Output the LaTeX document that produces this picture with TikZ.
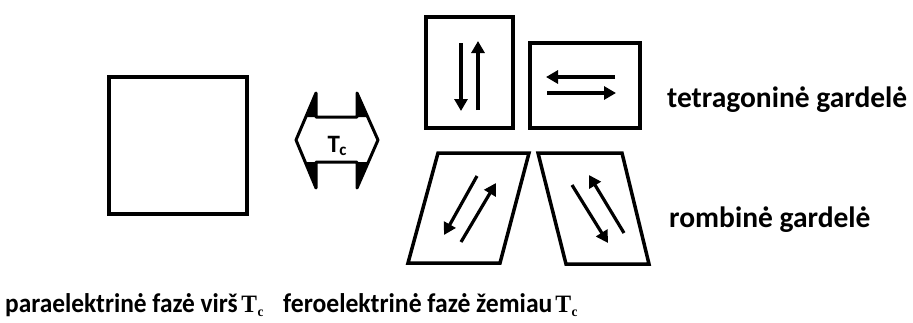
\documentclass[tikz,border=0pt]{standalone}
\usepackage{fontspec}
\setmainfont{Carlito}
\newfontfamily\serifT{Liberation Serif}
\usetikzlibrary{arrows.meta}
\tikzset{
  cell/.style={line width=4pt, line join=miter},
  rhomb/.style={line width=3.5pt, line join=miter},
  pol/.style={line width=3.2pt, -{Triangle[length=12pt,width=13pt]}},
  lbl/.style={anchor=base west, inner sep=0pt, font=\bfseries\fontsize{29.5}{32}\selectfont},
  bot/.style={anchor=base west, inner sep=0pt, font=\bfseries\fontsize{27}{30}\selectfont},
}
\newcommand{\TcSerif}{{\serifT\bfseries\fontsize{25}{27}\selectfont T}\kern0.5pt\raisebox{-4pt}{\serifT\bfseries\fontsize{14}{15}\selectfont c}}
\begin{document}
\begin{tikzpicture}[x=1pt,y=-1pt]
\useasboundingbox (0,0) rectangle (913,322);
\fill[white] (0,0) rectangle (913,322);
% paraelectric cubic cell
\draw[cell] (109,77) rectangle (247,214);
% double arrow with Tc
\coordinate (L) at (296,140);
\coordinate (R) at (378,140);
\draw[line width=3pt, line join=round] (L) -- (316,93) -- (316,117) -- (357,117) -- (357,93) -- (R) -- (357,188) -- (357,162) -- (316,162) -- (316,188) -- cycle;
\fill (316,93) -- (316,117) -- (305.8,117) -- cycle;
\fill (316,188) -- (316,162) -- (305.3,162) -- cycle;
\fill (357,93) -- (357,117) -- (367.3,117) -- cycle;
\fill (357,188) -- (357,162) -- (367.7,162) -- cycle;
\node[anchor=base, inner sep=0pt, font=\bfseries\fontsize{25}{27}\selectfont] (tc) at (337,152) {T\kern-0.5pt\raisebox{-3pt}{\fontsize{17}{18}\selectfont c}};
% tetragonal vertical
\draw[cell] (426,17) rectangle (513,128);
\coordinate (a1) at (461,43); \coordinate (a2) at (461,111);
\coordinate (b1) at (478,110); \coordinate (b2) at (478,41);
\draw[pol] (a1) -- (a2);
\draw[pol] (b1) -- (b2);
% tetragonal horizontal
\draw[cell] (530,43) rectangle (640,128);
\coordinate (c1) at (615,77); \coordinate (c2) at (546,77);
\coordinate (d1) at (547,93); \coordinate (d2) at (616,93);
\draw[pol] (c1) -- (c2);
\draw[pol] (d1) -- (d2);
% rhombohedral cells
\draw[rhomb] (438,153) -- (529,153) -- (500,263) -- (408,263) -- cycle;
\coordinate (e1) at (477,176); \coordinate (e2) at (444,235);
\coordinate (f1) at (461,242); \coordinate (f2) at (496,183);
\draw[pol] (e1) -- (e2);
\draw[pol] (f1) -- (f2);
\draw[rhomb] (538,153) -- (622,153) -- (649,264) -- (566,264) -- cycle;
\coordinate (g1) at (572,185); \coordinate (g2) at (608,243);
\coordinate (h1) at (624,233); \coordinate (h2) at (589,175);
\draw[pol] (g1) -- (g2);
\draw[pol] (h1) -- (h2);
% labels
\node[lbl] (tet) at (667,107) {tetragoninė gardelė};
\node[lbl] (rom) at (669,227) {rombinė gardelė};
\node[bot] (para) at (5,312) {\scalebox{0.94}[1]{paraelektrinė fazė virš\kern4pt\TcSerif}};
\node[bot] (fero) at (283,312) {\scalebox{0.95}[1]{feroelektrinė fazė žemiau\kern3pt\TcSerif}};
\end{tikzpicture}
\end{document}
